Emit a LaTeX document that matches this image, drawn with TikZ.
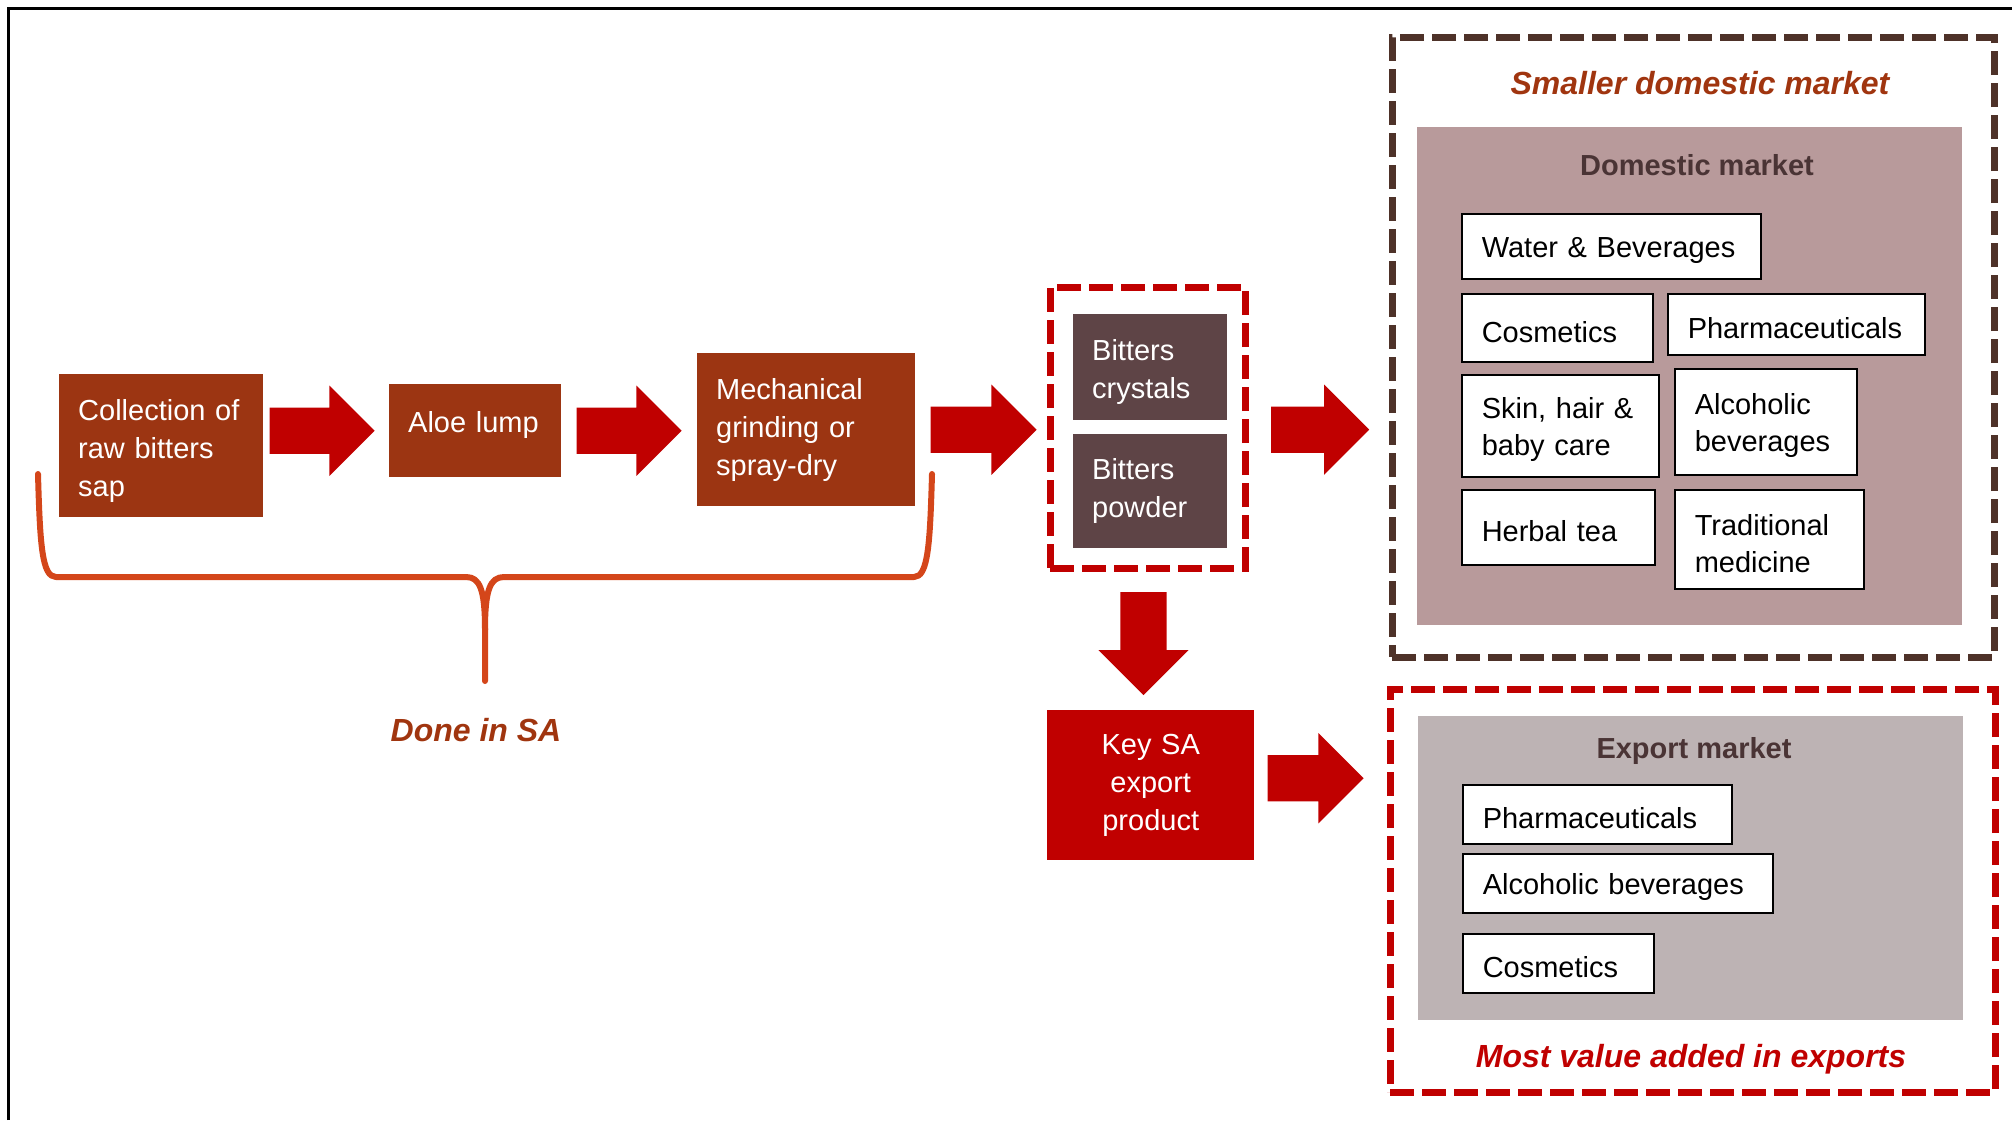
\documentclass[tikz,border=0pt]{standalone}
\usepackage{fontspec}
\setmainfont{Liberation Sans}
\usetikzlibrary{shapes.arrows}

\definecolor{procbrown}{HTML}{9C3512}
\definecolor{arrowred}{HTML}{C00000}
\definecolor{bitgrey}{HTML}{5E4446}
\definecolor{domfillc}{HTML}{B89A9B}
\definecolor{expfillc}{HTML}{BDB3B4}
\definecolor{framebrown}{HTML}{4E3229}
\definecolor{titletext}{HTML}{4A3435}
\definecolor{bracered}{HTML}{D4461A}
\definecolor{labelbrown}{HTML}{A0350F}

\newcommand{\boxfont}{\fontsize{29}{38}\selectfont}
\newcommand{\itemfont}{\fontsize{29}{37}\selectfont}
\newcommand{\titlefont}{\fontsize{29}{35}\selectfont\bfseries}
\newcommand{\notefont}{\fontsize{32}{38}\selectfont\bfseries\itshape}

\begin{document}
\begin{tikzpicture}[x=1pt,y=-1pt,
    procbox/.style={fill=procbrown, text=white, anchor=north west, inner xsep=19pt, inner ysep=0pt, align=left, font=\boxfont},
    bitbox/.style={procbox, fill=bitgrey},
    itembox/.style={draw=black, line width=1.5pt, fill=white, anchor=north west, inner xsep=20pt, inner ysep=0pt, text height=29pt, align=left, font=\itemfont},
    panel/.style={anchor=north west, inner sep=0pt},
    dashframe/.style={draw, line width=7pt, dash pattern=on 24pt off 8pt, anchor=north west, inner sep=0pt, outer sep=0pt},
    blockarrow/.style={single arrow, fill=arrowred, inner sep=23pt, minimum width=90pt, single arrow head extend=22pt, single arrow tip angle=90, anchor=tail},
    note/.style={font=\notefont}]
  \useasboundingbox (0,0) rectangle (2012,1120);
  \draw[line width=3pt] (8,1120) -- (8,8) -- (2012,8);

  % process chain
  \node[procbox, text width=166pt, text height=31pt, minimum height=143pt] (coll) at (59,374) {Collection of\\raw bitters\\sap};
  \node[procbox, text width=134pt, text depth=18pt, minimum height=93pt] (aloe) at (389,384) {Aloe lump};
  \node[procbox, text width=180pt, minimum height=153pt] (mech) at (697,353) {Mechanical\\grinding or\\spray-dry};

  \node[dashframe, draw=arrowred, minimum width=195pt, minimum height=281pt] (bitframe) at (1050,287) {};
  \node[bitbox, text width=116pt, text height=31pt, minimum height=106pt] (crys) at (1073,314) {Bitters\\crystals};
  \node[bitbox, text width=116pt, minimum height=114pt] (powd) at (1073,434) {Bitters\\powder};

  \node[procbox, fill=arrowred, align=center, text width=169pt, minimum height=150pt] (key) at (1047,710) {Key SA\\export\\product};

  % domestic market
  \node[dashframe, draw=framebrown, minimum width=602pt, minimum height=620pt] (domframe) at (1392,37) {};
  \node[panel, fill=domfillc, minimum width=545pt, minimum height=498pt] (domfill) at (1417,127) {};
  \node[note, text=labelbrown] (domnote) at (1700,83) {Smaller domestic market};
  \node[font=\titlefont, text=titletext] (domtitle) at (1697,165) {Domestic market};
  \node[itembox, text width=259pt, minimum height=65pt] (water) at (1461,213) {Water~\&~Beverages};
  \node[itembox, text width=151pt, minimum height=68pt] (cosm) at (1461,293) {Cosmetics};
  \node[itembox, text width=217pt, minimum height=61pt] (pharm) at (1667,293) {Pharmaceuticals};
  \node[itembox, text width=157pt, minimum height=102pt] (skin) at (1461,374) {Skin,~hair~\&\\baby~care};
  \node[itembox, text width=142pt, minimum height=106pt] (alco) at (1674,368) {Alcoholic\\beverages};
  \node[itembox, text width=153pt, minimum height=75pt] (herb) at (1461,489) {Herbal~tea};
  \node[itembox, text width=149pt, minimum height=99pt] (trad) at (1674,489) {Traditional\\medicine};

  % export market
  \node[dashframe, draw=arrowred, minimum width=605pt, minimum height=403pt] (expframe) at (1390,689) {};
  \node[panel, fill=expfillc, minimum width=545pt, minimum height=304pt] (expfill) at (1418,716) {};
  \node[font=\titlefont, text=titletext] (exptitle) at (1694,751) {Export market};
  \node[itembox, text width=229pt, minimum height=59pt] (epharm) at (1462,784) {Pharmaceuticals};
  \node[itembox, text width=270pt, minimum height=59pt] (ealco) at (1462,853) {Alcoholic~beverages};
  \node[itembox, text width=151pt, minimum height=59pt] (ecosm) at (1462,933) {Cosmetics};
  \node[note, text=arrowred] (expnote) at (1691,1059) {Most value added in exports};

  % block arrows
  \node[blockarrow, minimum height=105pt, xshift=6pt] (ar1) at (coll.east |- aloe.center) {};
  \node[blockarrow, minimum height=105pt, xshift=15pt] (ar2) at (aloe.east) {};
  \node[blockarrow, minimum height=106pt, xshift=15pt] (ar3) at (mech.east) {};
  \node[blockarrow, minimum height=98pt, xshift=26pt] (ar4) at (bitframe.east |- mech.center) {};
  \node[blockarrow, minimum height=103pt, shape border rotate=270, xshift=-4pt, yshift=-24pt] (ar6) at (bitframe.south) {};
  \node[blockarrow, minimum height=96pt, xshift=13pt, yshift=7pt] (ar5) at (key.east) {};

  % brace
  \draw[bracered, line width=6pt, line cap=round, line join=round]
    (38,474) .. controls (40,545) and (42,577) .. (56,577) -- (466,577)
    .. controls (480,577) and (485,590) .. (485,630) -- (485,681);
  \draw[bracered, line width=6pt, line cap=round, line join=round]
    (485,630) .. controls (485,590) and (490,577) .. (504,577) -- (914,577)
    .. controls (928,577) and (930,545) .. (932,474);
  \node[note, text=labelbrown] (sanote) at (476,730) {Done in SA};
\end{tikzpicture}
\end{document}
